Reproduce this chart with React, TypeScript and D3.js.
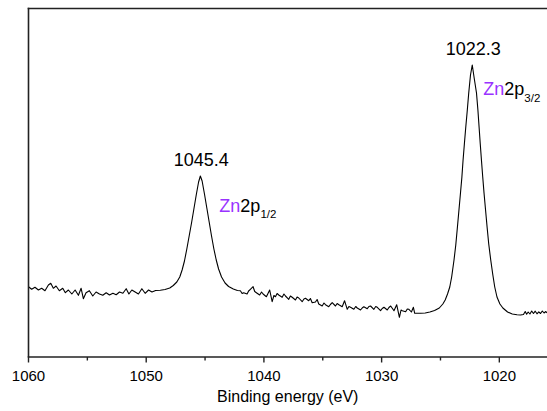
import React from "react";
import * as d3 from "d3";

// Binding energy (eV), intensity (a.u.)
const noiseHigh: [number, number][] = [
  [1060.0, 70.3], [1059.73, 67.7], [1059.45, 69.7], [1059.16, 67], [1058.88, 68.7], [1058.6, 66.3],
  [1058.31, 72], [1058.11, 73.7], [1057.89, 68.7], [1057.66, 71], [1057.38, 66.3], [1057.09, 68.7],
  [1056.87, 64.3], [1056.61, 67], [1056.32, 63], [1056.04, 67], [1055.76, 61.7], [1055.53, 68.7],
  [1055.34, 58.3], [1055.11, 64.3], [1054.83, 66.3], [1054.54, 61], [1054.26, 65], [1053.97, 63],
  [1053.69, 61.7], [1053.4, 64.3], [1053.12, 62], [1052.83, 63.7], [1052.55, 62.3], [1052.27, 65],
  [1051.98, 63.7], [1051.7, 68.3], [1051.47, 63], [1051.22, 67], [1050.94, 65], [1050.66, 63],
  [1050.37, 68.3], [1050.09, 63.7], [1049.8, 67], [1049.51, 65],
];

const peakZn2p12: [number, number][] = [
  [1049.2, 66.5], [1048.8, 66.8], [1048.4, 67.5], [1048.0, 69], [1047.7, 71.5], [1047.4, 75],
  [1047.15, 80], [1046.95, 87], [1046.75, 96], [1046.55, 108], [1046.35, 121], [1046.15, 134],
  [1045.95, 148], [1045.75, 162], [1045.55, 175], [1045.4, 181], [1045.25, 176], [1045.05, 163],
  [1044.85, 149], [1044.65, 135], [1044.45, 121], [1044.25, 108], [1044.05, 97], [1043.85, 88],
  [1043.6, 80], [1043.3, 74], [1043.0, 70.5], [1042.6, 68], [1042.25, 66.5],
];

const noiseMid: [number, number][] = [
  [1042.0, 66.3], [1041.85, 63.5], [1041.72, 64.3], [1041.43, 63], [1041.3, 66], [1041.15, 67.7],
  [1040.92, 70.3], [1040.78, 65.5], [1040.64, 64.3], [1040.36, 62], [1040.2, 65], [1040.07, 63],
  [1039.79, 60.3], [1039.51, 67], [1039.3, 55.3], [1039.15, 61.5], [1039.02, 60.3], [1038.88, 63.5],
  [1038.74, 62], [1038.45, 59.7], [1038.3, 63], [1038.17, 61], [1037.89, 57.7], [1037.75, 61],
  [1037.6, 59.7], [1037.32, 57], [1037.18, 60], [1037.04, 59], [1036.75, 55.3], [1036.6, 58],
  [1036.47, 58.7], [1036.19, 56.3], [1036.05, 58.5], [1035.9, 54.3], [1035.62, 55], [1035.48, 57.5],
  [1035.34, 53], [1035.05, 51], [1034.9, 54], [1034.77, 52.3], [1034.49, 50.3], [1034.35, 52.5],
  [1034.2, 54.3], [1033.92, 51], [1033.78, 53.5], [1033.63, 52.3], [1033.35, 50.3], [1033.15, 56.3],
  [1032.92, 47.7], [1032.78, 50.5], [1032.64, 49.7], [1032.36, 47.7], [1032.2, 50.5], [1032.07, 49],
  [1031.79, 47], [1031.65, 49], [1031.51, 50.3], [1031.22, 48.3], [1031.08, 50.5], [1030.94, 51],
  [1030.66, 47.7], [1030.5, 50.5], [1030.37, 49.7], [1030.09, 46.3], [1029.95, 48.5], [1029.8, 49.7],
  [1029.52, 47], [1029.38, 49.5], [1029.23, 51], [1028.95, 46.3], [1028.72, 52.3], [1028.49, 39.7],
  [1028.35, 47], [1028.24, 46.3], [1027.96, 45.3], [1027.82, 48], [1027.68, 47.7], [1027.47, 45],
  [1027.3, 49.7], [1027.19, 43.7],
];

const peakZn2p32: [number, number][] = [
  [1026.68, 43.7], [1026.3, 44], [1025.9, 45], [1025.5, 46.5], [1025.1, 49], [1024.8, 53],
  [1024.6, 57], [1024.4, 63], [1024.21, 70], [1024.05, 80], [1023.85, 97], [1023.7, 112],
  [1023.56, 130], [1023.43, 147], [1023.3, 164], [1023.18, 180], [1023.08, 197], [1022.97, 213],
  [1022.85, 230], [1022.72, 247], [1022.6, 264], [1022.45, 282], [1022.3, 292], [1022.15, 280],
  [1021.94, 264], [1021.82, 247], [1021.72, 230], [1021.62, 213], [1021.52, 197], [1021.41, 180],
  [1021.3, 164], [1021.17, 147], [1021.04, 130], [1020.9, 113], [1020.73, 97], [1020.55, 82],
  [1020.39, 70], [1020.2, 60], [1019.95, 53], [1019.7, 49], [1019.3, 45], [1018.9, 43],
  [1018.5, 42.2], [1018.2, 42],
];

const noiseLow: [number, number][] = [
  [1017.95, 42.5], [1017.8, 45.5], [1017.68, 42.8], [1017.55, 45], [1017.4, 43], [1017.25, 46],
  [1017.1, 43.5], [1016.95, 45.8], [1016.8, 43.2], [1016.65, 45.2], [1016.5, 43.5], [1016.35, 46],
  [1016.2, 44], [1016.05, 45.5], [1015.95, 44],
];

const majorTicks = [1060, 1050, 1040, 1030, 1020];
const minorTicks = [1055, 1045, 1035, 1025];

const peakEnergies = [1045.4, 1022.3];
const peakIntensities = [181, 292];
const peakTexts = ["1045.4", "1022.3"];
const stateSubs = ["1/2", "3/2"];

const xLabel = "Binding energy (eV)";

export default function App() {
  const W = 547, H = 411;
  const left = 28.5, right = 547, top = 8.5, bottom = 357;
  const x = d3.scaleLinear().domain([1060, 1015.95]).range([left, right]);
  const y = d3.scaleLinear().domain([0, 348.5]).range([bottom, top]);
  const data = [...noiseHigh, ...peakZn2p12, ...noiseMid, ...peakZn2p32, ...noiseLow];
  const line = d3.line<[number, number]>().x((d) => x(d[0])).y((d) => y(d[1]));
  const font = "'Liberation Sans', Arial, sans-serif";
  const stateDx = [19, 11];
  const stateDy = [35.5, 30];

  return (
    <div style={{ position: "absolute", left: 0, top: 0 }}>
      <svg width={W} height={H} style={{ display: "block", background: "#fff" }}>
        <path d={line(data) || ""} fill="none" stroke="#000" strokeWidth={1.1} strokeLinejoin="round" />
        {/* frame */}
        <line x1={left} x2={left} y1={top - 0.8} y2={bottom} stroke="#222" strokeWidth={1.6} />
        <line x1={left - 0.8} x2={right} y1={top} y2={top} stroke="#222" strokeWidth={1.6} />
        <line x1={left - 0.8} x2={right} y1={bottom} y2={bottom} stroke="#222" strokeWidth={1.6} />
        {majorTicks.map((t) => (
          <g key={t}>
            <line x1={x(t)} x2={x(t)} y1={bottom} y2={bottom + 5.5} stroke="#222" strokeWidth={1.4} />
            <text x={x(t)} y={381} textAnchor="middle" fontFamily={font} fontSize={15} fill="#000">
              {t}
            </text>
          </g>
        ))}
        {minorTicks.map((t) => (
          <line key={t} x1={x(t)} x2={x(t)} y1={bottom} y2={bottom + 3.5} stroke="#222" strokeWidth={1.4} />
        ))}
        <text x={(left + right) / 2} y={402} textAnchor="middle" fontFamily={font} fontSize={16} fill="#000">
          {xLabel}
        </text>
        {peakEnergies.map((e, i) => (
          <text key={peakTexts[i]} x={x(e) + 1} y={y(peakIntensities[i]) - 10} textAnchor="middle" fontFamily={font} fontSize={18} fill="#000">
            {peakTexts[i]}
          </text>
        ))}
        {peakEnergies.map((e, i) => (
          <text key={stateSubs[i]} x={x(e) + stateDx[i]} y={y(peakIntensities[i]) + stateDy[i]} fontFamily={font} fontSize={18} fill="#000">
            <tspan fill="#9933ff">Zn</tspan>
            <tspan>2p</tspan>
            <tspan fontSize={11.5} dy={6.5}>{stateSubs[i]}</tspan>
          </text>
        ))}
      </svg>
    </div>
  );
}
